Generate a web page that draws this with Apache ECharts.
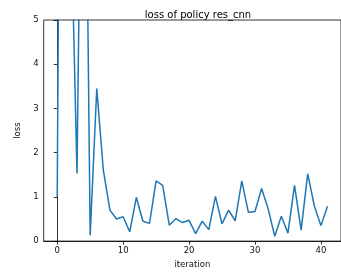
<!DOCTYPE html>
<html>
<head>
<meta charset="utf-8">
<script src="https://cdn.jsdelivr.net/npm/echarts@6/dist/echarts.min.js"></script>
<style>
  html, body { margin: 0; padding: 0; background: #fff; }
  #main { width: 341px; height: 274px; }
</style>
</head>
<body>
<div id="main"></div>
<script>
// iteration index and policy loss (1, 2, 4 run off the top)
var iterations = [0, 1, 2, 3, 4, 5, 6, 7, 8, 9, 10, 11, 12, 13, 14, 15, 16, 17, 18, 19, 20,
    21, 22, 23, 24, 25, 26, 27, 28, 29, 30, 31, 32, 33, 34, 35, 36, 37, 38, 39, 40, 41];
var lossValues = [1.0, 25, 8, 1.53, 14, 0.13, 3.45, 1.6, 0.7, 0.5, 0.55, 0.21, 0.99, 0.45, 0.4,
    1.36, 1.26, 0.36, 0.51, 0.42, 0.47, 0.17, 0.45, 0.26, 1.01, 0.39, 0.7, 0.46, 1.36, 0.65,
    0.67, 1.19, 0.73, 0.11, 0.56, 0.18, 1.26, 0.25, 1.52, 0.8, 0.35, 0.79];
var xTicks = [0, 10, 20, 30, 40];
var yTicks = [0, 1, 2, 3, 4, 5];

var font = 'DejaVu Sans';
var points = [];
for (var i = 0; i < iterations.length; i++) {
    points.push([iterations[i], lossValues[i]]);
}

var myChart = echarts.init(document.getElementById('main'));
myChart.setOption({
    animation: false,
    title: {
        text: 'loss of policy res_cnn',
        left: 193,
        top: 5,
        textAlign: 'center',
        textStyle: { fontFamily: font, fontSize: 10, fontWeight: 'normal', color: '#000' }
    },
    grid: {
        left: 43.7, top: 20, width: 298.6, height: 224,
        show: true, borderColor: '#000', borderWidth: 0.8
    },
    xAxis: {
        type: 'value',
        min: -2.05,
        max: 43.05,
        name: 'iteration',
        nameLocation: 'middle',
        nameGap: 17,
        nameTextStyle: { fontFamily: font, fontSize: 8.5, color: '#111' },
        axisLine: { show: true, onZero: false, lineStyle: { color: '#000', width: 0.8 } },
        axisTick: { show: true, length: 3.5, customValues: xTicks, lineStyle: { color: '#000', width: 0.8 } },
        axisLabel: { customValues: xTicks, margin: 5, fontFamily: font, fontSize: 8.5, color: '#111' },
        splitLine: { show: false }
    },
    yAxis: {
        type: 'value',
        min: 0,
        max: 5,
        interval: 1,
        name: 'loss',
        nameLocation: 'middle',
        nameGap: 14,
        nameTextStyle: { fontFamily: font, fontSize: 8.5, color: '#111' },
        axisLine: { show: true, lineStyle: { color: '#000', width: 0.8 } },
        axisTick: { show: true, length: 3.5, lineStyle: { color: '#000', width: 0.8 } },
        axisLabel: {
            margin: 5, fontFamily: font, fontSize: 8.5, color: '#111',
            formatter: function (v) { return yTicks.indexOf(v) >= 0 ? String(v) : ''; }
        },
        splitLine: { show: false }
    },
    series: [{
        type: 'line',
        data: points,
        showSymbol: false,
        clip: true,
        lineStyle: { color: '#1f77b4', width: 1.5 },
        itemStyle: { color: '#1f77b4' }
    }]
});
</script>
</body>
</html>
